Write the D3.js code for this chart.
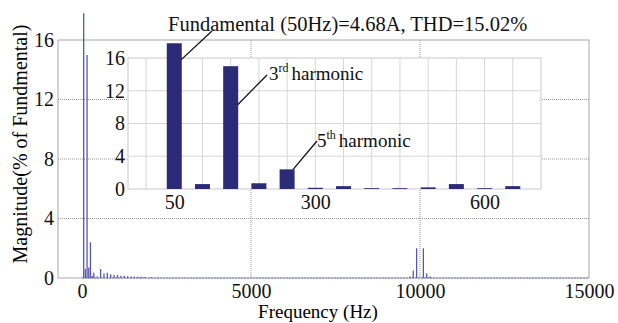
<!DOCTYPE html>
<html>
<head>
<meta charset="utf-8">
<script src="https://cdn.jsdelivr.net/npm/d3@7"></script>
<style>
  body { margin: 0; background: #fff; }
  svg text { font-family: "Liberation Serif", "DejaVu Serif", serif; }
</style>
</head>
<body>
<script>
// Spectrum data
var specFreq = [50, 100, 150, 200, 250, 300, 350, 450, 550, 650, 750, 850, 950, 1050, 1150,
                1250, 1350, 1450, 1550, 1650, 1750, 1850, 2050, 2250,
                9700, 9800, 9900, 10100, 10200, 10300];
var specMag = [17.8, 0.6, 15.0, 0.7, 2.4, 0.15, 0.35, 0.1, 0.6, 0.3, 0.35, 0.25, 0.2, 0.2, 0.15,
               0.15, 0.12, 0.1, 0.1, 0.08, 0.08, 0.06, 0.05, 0.04,
               0.1, 0.5, 2.0, 2.0, 0.3, 0.1];

// Inset: harmonics up to 650 Hz
var insetFreq = [50, 100, 150, 200, 250, 300, 350, 400, 450, 500, 550, 600, 650];
var insetMag = [17.8, 0.6, 15.0, 0.7, 2.4, 0.15, 0.35, 0.1, 0.1, 0.2, 0.6, 0.1, 0.35];

var mainXTicks = [0, 5000, 10000, 15000];
var mainYTicks = [0, 4, 8, 12, 16];
var insetXTicks = [50, 300, 600];
var insetYTicks = [0, 4, 8, 12, 16];
var insetGrid = [0, 50, 100, 150, 200, 250, 300, 350, 400, 450, 500, 550, 600, 650];

var W = 618, H = 323;
var svg = d3.select("body").append("svg")
    .attr("width", W).attr("height", H);

// main scales
var x = d3.scaleLinear().domain([-710, 15000]).range([58, 589]);
var y = d3.scaleLinear().domain([0, 16]).range([278, 40]);

// frame
svg.append("rect")
    .attr("x", 58).attr("y", 40).attr("width", 531).attr("height", 238)
    .attr("fill", "none").attr("stroke", "#a8a8a8").attr("stroke-width", 1);

// dotted grid
svg.selectAll(".hgrid").data(mainYTicks.slice(1, 4)).enter().append("line")
    .attr("x1", 58).attr("x2", 589)
    .attr("y1", function(d) { return y(d); }).attr("y2", function(d) { return y(d); })
    .attr("stroke", "#999").attr("stroke-dasharray", "1,1");
svg.selectAll(".vgrid").data([5000, 10000]).enter().append("line")
    .attr("x1", function(d) { return x(d); }).attr("x2", function(d) { return x(d); })
    .attr("y1", 40).attr("y2", 278)
    .attr("stroke", "#999").attr("stroke-dasharray", "1,1");

// axes (labels only, frame drawn above)
var xAxis = d3.axisBottom(x).tickValues(mainXTicks).tickFormat(d3.format("d")).tickSize(0).tickPadding(6);
var yAxis = d3.axisLeft(y).tickValues(mainYTicks).tickFormat(d3.format("d")).tickSize(0).tickPadding(4);
var gx = svg.append("g").attr("transform", "translate(0,278)").call(xAxis);
var gy = svg.append("g").attr("transform", "translate(58,0)").call(yAxis);

// spectrum baseline + stems
svg.append("line")
    .attr("x1", x(0)).attr("x2", x(15000)).attr("y1", y(0)).attr("y2", y(0))
    .attr("stroke", "#7a7ac0").attr("stroke-width", 1).attr("stroke-dasharray", "2,1");
svg.selectAll(".stem").data(specFreq).enter().append("line")
    .attr("x1", function(d) { return x(d); }).attr("x2", function(d) { return x(d); })
    .attr("y1", y(0))
    .attr("y2", function(d, i) { return y(specMag[i]); })
    .attr("stroke", "#5656b4").attr("stroke-width", 1.3);

// axis titles
svg.append("text")
    .attr("x", 318).attr("y", 318)
    .attr("text-anchor", "middle").attr("font-size", 19)
    .text("Frequency (Hz)");
svg.append("text")
    .attr("transform", "translate(27,144) rotate(-90)")
    .attr("text-anchor", "middle").attr("font-size", 20)
    .text("Magnitude(% of Fundmental)");

// ---- inset ----
var ix = d3.scaleLinear().domain([-32, 700]).range([128, 541]);
var iy = d3.scaleLinear().domain([0, 16]).range([189, 58]);

svg.append("rect")
    .attr("x", 128).attr("y", 58).attr("width", 413).attr("height", 131)
    .attr("fill", "#fff").attr("stroke", "#c8c8c8");

svg.selectAll(".igv").data(insetGrid).enter().append("line")
    .attr("x1", function(d) { return ix(d); }).attr("x2", function(d) { return ix(d); })
    .attr("y1", 58).attr("y2", 189)
    .attr("stroke", "#d6d6d6");
svg.selectAll(".igh").data(insetYTicks.slice(1, 4)).enter().append("line")
    .attr("x1", 128).attr("x2", 541)
    .attr("y1", function(d) { return iy(d); }).attr("y2", function(d) { return iy(d); })
    .attr("stroke", "#d6d6d6");

var bw = 15;
svg.selectAll(".ibar").data(insetFreq).enter().append("rect")
    .attr("x", function(d) { return ix(d) - bw / 2; })
    .attr("width", bw)
    .attr("y", function(d, i) { return iy(insetMag[i]); })
    .attr("height", function(d, i) { return iy(0) - iy(insetMag[i]); })
    .attr("fill", "#2b2b78");

var igx = svg.append("g").attr("transform", "translate(0,189)")
    .call(d3.axisBottom(ix).tickValues(insetXTicks).tickSize(0).tickPadding(6));
var igy = svg.append("g").attr("transform", "translate(128,0)")
    .call(d3.axisLeft(iy).tickValues(insetYTicks).tickSize(0).tickPadding(3));

[gx, gy, igx, igy].forEach(function(g) {
    g.attr("font-size", 20);
    g.select(".domain").remove();
    g.selectAll("text").attr("fill", "#111");
});

// annotations
function leader(x1, y1, x2, y2) {
    svg.append("line").attr("x1", x1).attr("y1", y1).attr("x2", x2).attr("y2", y2)
        .attr("stroke", "#111").attr("stroke-width", 1.3);
}
leader(ix(50) + 7, iy(15.8), 212, 31);
leader(ix(150) + 7, iy(10.3), 267, 75);
leader(ix(250) + 6, iy(2.4), 317, 141);

svg.append("text").attr("x", 168).attr("y", 31).attr("font-size", 20.5)
    .attr("fill", "#111")
    .text("Fundamental (50Hz)=4.68A, THD=15.02%");

var t3 = svg.append("text").attr("x", 269).attr("y", 80).attr("font-size", 19).attr("fill", "#111");
t3.append("tspan").text("3");
t3.append("tspan").attr("dy", -8).attr("font-size", 12).text("rd");
t3.append("tspan").attr("dy", 8).attr("dx", 3).text("harmonic");

var t5 = svg.append("text").attr("x", 317).attr("y", 147).attr("font-size", 19).attr("fill", "#111");
t5.append("tspan").text("5");
t5.append("tspan").attr("dy", -8).attr("font-size", 12).text("th");
t5.append("tspan").attr("dy", 8).attr("dx", 3).text("harmonic");
</script>
</body>
</html>
